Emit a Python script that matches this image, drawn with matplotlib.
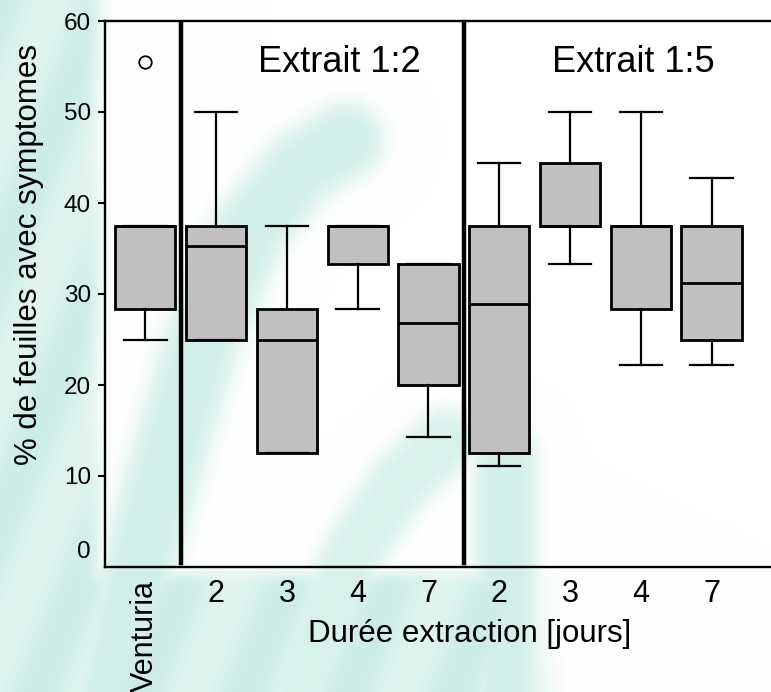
import numpy as np
import matplotlib
matplotlib.use("Agg")
import matplotlib.pyplot as plt
from matplotlib.transforms import ScaledTranslation

# ---------------- data ----------------
labels = ["Venturia", "2", "3", "4", "7", "2", "3", "4", "7"]
q1 = [28.4, 25.0, 12.5, 33.3, 20.0, 12.5, 37.5, 28.4, 25.0]
q3 = [37.5, 37.5, 28.4, 37.5, 33.3, 37.5, 44.4, 37.5, 37.5]
medians = [37.5, 35.3, 25.0, 37.5, 26.8, 28.9, 37.5, 37.5, 31.2]
whislo = [25.0, 25.0, 12.5, 28.4, 14.3, 11.1, 33.3, 22.2, 22.2]
whishi = [37.5, 50.0, 37.5, 37.5, 33.3, 44.4, 50.0, 50.0, 42.8]
outliers = [[55.5], [], [], [], [], [], [], [], []]
group_labels = ["Extrait 1:2", "Extrait 1:5"]
yticks = [0, 10, 20, 30, 40, 50, 60]

FONT = ["Liberation Sans", "DejaVu Sans"]
plt.rcParams["font.family"] = FONT

W, H = 771, 692
fig = plt.figure(figsize=(W / 100, H / 100), dpi=100)
fig.patch.set_facecolor("white")

# ---------------- decorative background ----------------
yy, xx = np.mgrid[0:H, 0:W].astype(float)

def seg_dist(pts):
    d = np.full(xx.shape, 1e9)
    for (x0, y0), (x1, y1) in zip(pts[:-1], pts[1:]):
        dx, dy = x1 - x0, y1 - y0
        L2 = dx * dx + dy * dy
        t = np.clip(((xx - x0) * dx + (yy - y0) * dy) / L2, 0, 1)
        px, py = x0 + t * dx, y0 + t * dy
        d = np.minimum(d, np.hypot(xx - px, yy - py))
    return d

def soft(v, edge, w):
    return 1.0 / (1.0 + np.exp((v - edge) / w))

u = 2.5 * xx + yy
stripes = 0.6 + 0.4 * (0.5 + 0.5 * np.cos(2 * np.pi * u / 260.0))

left = soft(xx, 98, 5)
bottom = (1 - soft(yy, 572, 4)) * soft(xx, 540, 8)
region = np.maximum(left, bottom) * stripes

bandA = np.exp(-(seg_dist([(345, 140), (300, 168), (250, 228), (205, 330),
                          (175, 430), (150, 520), (130, 600), (110, 692)]) / 40) ** 4)
bandB = np.exp(-(seg_dist([(445, 440), (400, 482), (360, 540), (330, 600),
                          (300, 692)]) / 34) ** 4)
bandC = np.exp(-(seg_dist([(505, 455), (505, 692)]) / 33) ** 4)
bands = np.maximum.reduce([bandA, bandB * 0.85, bandC])

tmap = np.clip(np.maximum(region, bands * 0.9), 0, 1)
teal = np.array([0.80, 0.93, 0.90])
img = 1 - tmap[..., None] * (1 - teal[None, None, :])

bg = fig.add_axes([0, 0, 1, 1], zorder=-10)
bg.imshow(img, extent=[0, W, H, 0], aspect="auto", interpolation="bilinear")
bg.set_axis_off()

# ---------------- main axes ----------------
left_px, right_px, top_px, bot_px = 105, 771, 21, 567
ax = fig.add_axes([left_px / W, 1 - bot_px / H, (right_px - left_px) / W,
                   (bot_px - top_px) / H])
ax.patch.set_alpha(0)

positions = list(range(len(labels)))
stats = []
for i in positions:
    stats.append(dict(med=medians[i], q1=q1[i], q3=q3[i], whislo=whislo[i],
                      whishi=whishi[i], fliers=outliers[i], label=labels[i]))

ax.bxp(stats, positions=positions, widths=0.85, patch_artist=True,
       showfliers=True,
       boxprops=dict(facecolor="#c0c0c0", edgecolor="black", linewidth=2.0),
       medianprops=dict(color="black", linewidth=2.0),
       whiskerprops=dict(color="black", linewidth=1.6),
       capprops=dict(color="black", linewidth=1.6),
       capwidths=0.6,
       flierprops=dict(marker="o", markerfacecolor="none",
                       markeredgecolor="black", markersize=9,
                       markeredgewidth=1.3))

ax.set_xlim(-0.57, 8.84)
ax.set_ylim(0, 60)

# separators
for xs in (0.5, 4.5):
    ax.axvline(xs, ymin=0.007, ymax=0.9945, color="black", linewidth=3.2)

# group labels
ax.text(2.74, 54.4, group_labels[0], ha="center", va="baseline", fontsize=26)
ax.text(6.89, 54.4, group_labels[1], ha="center", va="baseline", fontsize=26)

# spines
for s in ("left", "top", "bottom"):
    ax.spines[s].set_linewidth(1.7)
ax.spines["right"].set_visible(False)

# ticks
ax.set_yticks(yticks)
ax.set_yticklabels([str(v) for v in yticks], fontsize=17.5)
ax.tick_params(axis="y", length=5, width=1.5, pad=5)
ax.yaxis.get_major_ticks()[0].tick1line.set_visible(False)
lab0 = ax.get_yticklabels()[0]
lab0.set_transform(lab0.get_transform() + ScaledTranslation(0, 0.17, fig.dpi_scale_trans))

ax.set_xticks(positions)
ax.set_xticklabels(labels, fontsize=22)
ax.tick_params(axis="x", length=0, pad=9)
ax.get_xticklabels()[0].set_rotation(90)

ax.set_xlabel("Durée extraction [jours]", fontsize=22.5)
ax.xaxis.set_label_coords(0.547, -0.095)
ax.set_ylabel("% de feuilles avec symptomes", fontsize=22.5)
ax.yaxis.set_label_coords(-0.092, 0.573)

fig.savefig("out.png", dpi=100)
